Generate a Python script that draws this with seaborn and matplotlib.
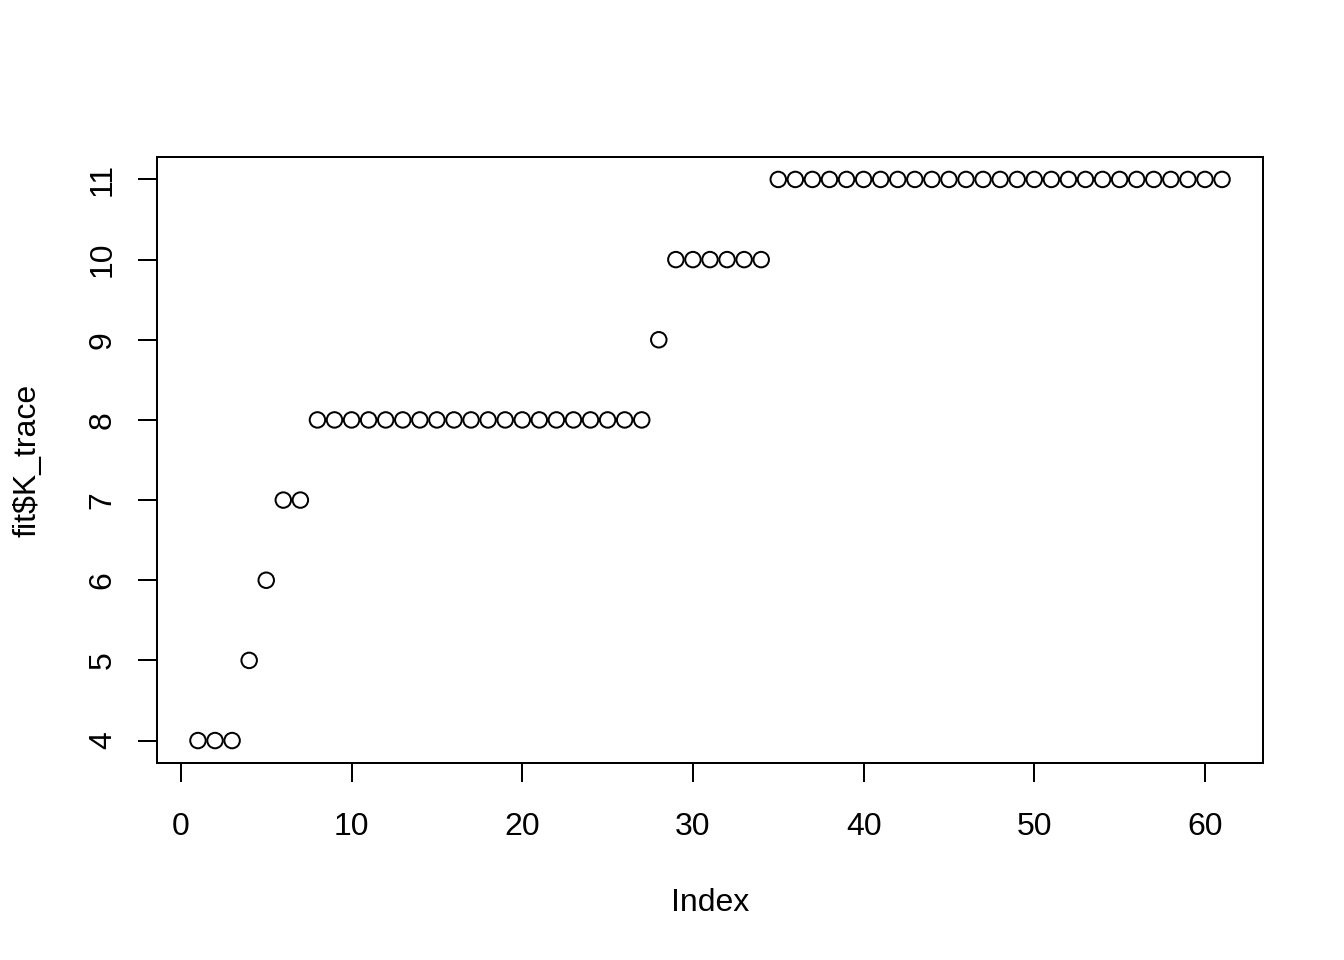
import matplotlib
matplotlib.use("Agg")
import matplotlib.pyplot as plt
import seaborn as sns
import numpy as np

index = list(range(1, 62))
k_trace = [4, 4, 4, 5, 6, 7, 7] + [8] * 20 + [9] + [10] * 6 + [11] * 27

sns.set_style("ticks")
plt.rcParams['font.family'] = ['Liberation Sans', 'DejaVu Sans']
plt.rcParams['text.color'] = 'black'
plt.rcParams['axes.labelcolor'] = 'black'

fig = plt.figure(figsize=(7, 5), dpi=192)
ax = fig.add_axes([157/1344, 1 - 763/960, (1263-157)/1344, (763-157)/960])

sns.scatterplot(x=index, y=k_trace, ax=ax, marker='o', s=5.8**2,
                facecolor='none', edgecolor='black', linewidth=0.75)

ax.set_xlim(-1.4, 63.4)
ax.set_ylim(3.72, 11.28)
ax.set_xticks([0, 10, 20, 30, 40, 50, 60])
ax.set_yticks([4, 5, 6, 7, 8, 9, 10, 11])

for s in ax.spines.values():
    s.set_visible(True)
    s.set_color('black')
    s.set_linewidth(0.75)

ax.tick_params(axis='both', direction='out', length=7.2, width=0.75,
               color='black', labelsize=12, labelcolor='black')
ax.tick_params(axis='x', pad=11)
ax.tick_params(axis='y', pad=7.5)
for lab in ax.get_yticklabels():
    lab.set_rotation(90)
    lab.set_va('center')

ax.set_xlabel('Index', fontsize=12, labelpad=17.5, color='black')
ax.set_ylabel('fit$K_trace', fontsize=12, labelpad=17, color='black')

fig.savefig('out.png', dpi=192)
